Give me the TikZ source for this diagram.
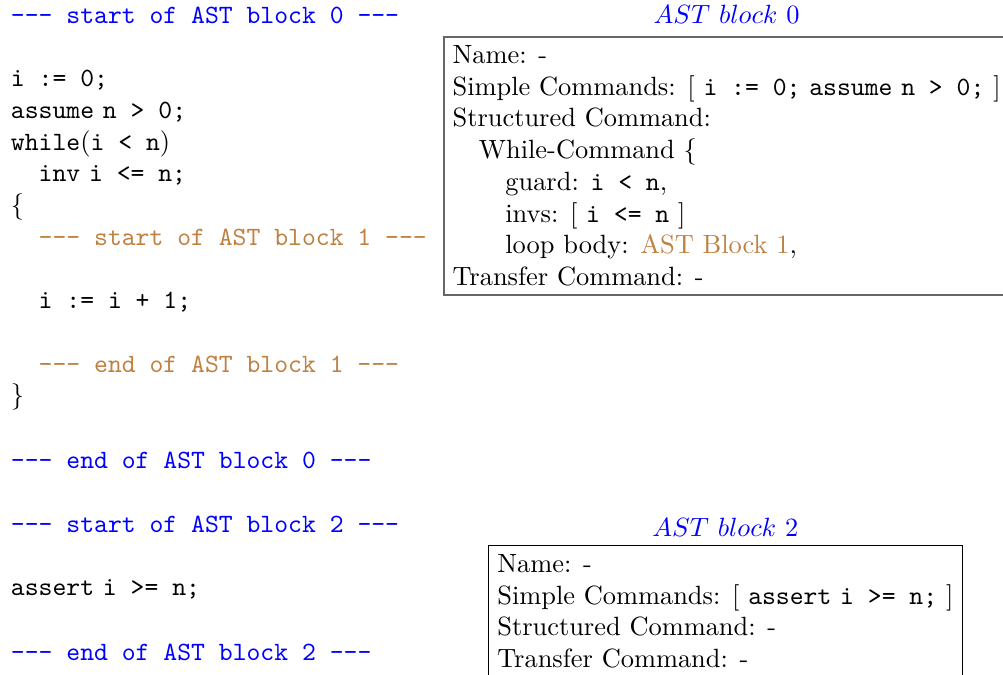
\documentclass[tikz,border=0pt]{standalone}
\usepackage{xcolor}
\begin{document}
\begin{tikzpicture}[x=0.378788pt,y=-0.378788pt,
  codeline/.style={anchor=base west,inner sep=0pt,outer sep=0pt},
  blk0/.style={codeline,text=blue},
  blk1/.style={codeline,text=brown},
  astbox/.style={draw,align=left,anchor=north west,inner sep=3.3333pt},
  asttitle/.style={anchor=base,inner sep=0pt,text=blue}]
\useasboundingbox (0,0) rectangle (1003,675);
\clip (0,0) rectangle (1003,675);
% code listing
\node[blk0] (c1) at (11,23.5) {\texttt{-{}-{}- start of AST block 0 -{}-{}-}};
\node[codeline] (c3) at (11,86.9) {\texttt{i := 0;}};
\node[codeline] (c4) at (11,118.6) {\texttt{assume} \texttt{n > 0;}};
\node[codeline] (c5) at (11,150.3) {\texttt{while}(\texttt{i < n})};
\node[codeline] (c6) at (38.7,182.0) {\texttt{inv} \texttt{i <= n;}};
\node[codeline] (c7) at (11,213.7) {\{};
\node[blk1] (c8) at (38.7,245.4) {\texttt{-{}-{}- start of AST block 1 -{}-{}-}};
\node[codeline] (c10) at (38.7,308.8) {\texttt{i := i + 1;}};
\node[blk1] (c12) at (38.7,372.2) {\texttt{-{}-{}- end of AST block 1 -{}-{}-}};
\node[codeline] (c13) at (11,403.9) {\}};
\node[blk0] (c15) at (11,469) {\texttt{-{}-{}- end of AST block 0 -{}-{}-}};
\node[blk0] (c17) at (11,533) {\texttt{-{}-{}- start of AST block 2 -{}-{}-}};
\node[codeline] (c19) at (11,596) {\texttt{assert} \texttt{i >= n;}};
\node[blk0] (c21) at (11,660) {\texttt{-{}-{}- end of AST block 2 -{}-{}-}};
% AST block 0
\node[astbox,draw=black!60,line width=0.6pt] (b0) at (443,36) {%
Name: -\\
Simple Commands: [ \texttt{i := 0;} \texttt{assume} \texttt{n > 0;} ]\\
Structured Command:\\
\quad While-Command \{\\
\qquad guard: \texttt{i < n},\\
\qquad invs: [ \texttt{i <= n} ]\\
\qquad loop body: \textcolor{brown}{AST Block 1},\\
Transfer Command: -};
\node[asttitle] (t0) at (b0.north |- c1.base) {$AST\ block\ 0$};
% AST block 2
\node[astbox,draw=black,line width=0.4pt] (b2) at (488,545) {%
Name: -\\
Simple Commands: [ \texttt{assert} \texttt{i >= n;} ]\\
Structured Command: -\\
Transfer Command: -};
\node[asttitle] (t2) at ([yshift=3.4pt]b2.north) {$AST\ block\ 2$};
\end{tikzpicture}
\end{document}
